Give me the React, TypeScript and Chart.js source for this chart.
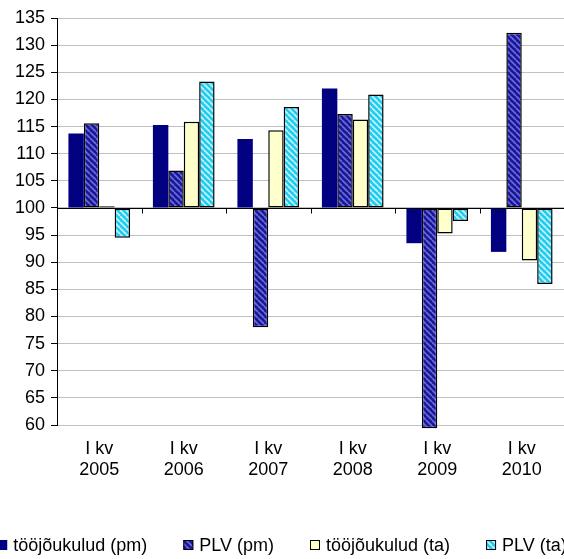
import React, { useEffect, useRef } from "react";
import { Chart, registerables } from "chart.js";

Chart.register(...registerables);

const categories: string[][] = [
  ["I kv", "2005"],
  ["I kv", "2006"],
  ["I kv", "2007"],
  ["I kv", "2008"],
  ["I kv", "2009"],
  ["I kv", "2010"],
];
const seriesNames = ["tööjõukulud (pm)", "PLV (pm)", "tööjõukulud (ta)", "PLV (ta)"];
const toojoukuludPm = [113.7, 115.3, 112.7, 122.0, 93.5, 91.9];
const plvPm = [115.6, 106.9, 78.0, 117.3, 59.4, 132.3];
const toojoukuludTa = [100.3, 115.9, 114.3, 116.3, 95.3, 90.3];
const plvTa = [94.5, 123.3, 118.6, 120.9, 97.6, 86.0];
const yTicks = { min: 60, max: 135, step: 5, base: 100 };

const FONT = "'Liberation Sans', Arial, sans-serif";

function makePattern(bg: string, stripe: string): CanvasPattern | string {
  const s = 6;
  const c = document.createElement("canvas");
  c.width = s;
  c.height = s;
  const ctx = c.getContext("2d");
  if (!ctx) return bg;
  ctx.fillStyle = bg;
  ctx.fillRect(0, 0, s, s);
  ctx.strokeStyle = stripe;
  ctx.lineWidth = 1.6;
  for (const x0 of [-s, 0, s]) {
    ctx.beginPath();
    ctx.moveTo(x0, 0);
    ctx.lineTo(x0 + s, s);
    ctx.stroke();
  }
  const p = ctx.createPattern(c, "repeat");
  return p || bg;
}

export default function App() {
  const ref = useRef<HTMLCanvasElement | null>(null);

  useEffect(() => {
    document.body.style.margin = "0";
    const canvas = ref.current;
    if (!canvas) return;
    const navy = "#000080";
    const plvPmFill = makePattern("#1a1a8c", "#6a6aee");
    const plvTaFill = makePattern("#22ccee", "#c8f4ff");
    const yellow = "#ffffcc";

    const fills = [navy, plvPmFill, yellow, plvTaFill];
    const borders = [0, 1.5, 1.5, 1.5];

    const axisPlugin = {
      id: "baseAxis",
      afterDatasetsDraw(chart: any) {
        const { ctx, chartArea, scales } = chart;
        const y = Math.round(scales.y.getPixelForValue(yTicks.base)) + 0.5;
        ctx.save();
        ctx.strokeStyle = "#000";
        ctx.lineWidth = 1;
        ctx.beginPath();
        ctx.moveTo(chartArea.left, y);
        ctx.lineTo(chartArea.right, y);
        const n = categories.length;
        const w = (chartArea.right - chartArea.left) / n;
        for (let i = 1; i < n; i++) {
          const x = Math.round(chartArea.left + i * w) + 0.5;
          ctx.moveTo(x, y);
          ctx.lineTo(x, y + 5);
        }
        ctx.stroke();
        ctx.restore();
      },
    };

    const legendPlugin = {
      id: "customLegend",
      afterDraw(chart: any) {
        const ctx = chart.ctx;
        ctx.save();
        ctx.font = `18px ${FONT}`;
        ctx.textBaseline = "middle";
        const box = 10;
        const gap = 6;
        const spacing = 36;
        const widths = seriesNames.map((n) => ctx.measureText(n).width);
        const total =
          widths.reduce((a, b) => a + b, 0) + seriesNames.length * (box + gap) + spacing * (seriesNames.length - 1);
        let x = chart.width / 2 - total / 2;
        const y = 545;
        seriesNames.forEach((name, i) => {
          ctx.fillStyle = fills[i] as any;
          ctx.fillRect(x, y - box / 2, box, box);
          if (borders[i] > 0) {
            ctx.strokeStyle = "#000";
            ctx.lineWidth = 1;
            ctx.strokeRect(x + 0.5, y - box / 2 + 0.5, box - 1, box - 1);
          }
          ctx.fillStyle = "#000";
          ctx.fillText(name, x + box + gap, y + 1);
          x += box + gap + widths[i] + spacing;
        });
        ctx.restore();
      },
    };

    const values = [toojoukuludPm, plvPm, toojoukuludTa, plvTa];

    const chart = new Chart(canvas, {
      type: "bar",
      data: {
        labels: categories,
        datasets: values.map((v, i) => ({
          label: seriesNames[i],
          data: v,
          base: yTicks.base,
          backgroundColor: fills[i] as any,
          borderColor: "#000",
          borderWidth: borders[i],
          borderSkipped: false,
          categoryPercentage: 0.73,
          barPercentage: 1.0,
          clip: false as any,
        })),
      },
      options: {
        animation: false,
        responsive: true,
        maintainAspectRatio: false,
        layout: { padding: { top: 18, left: 0, right: 0, bottom: 0 } },
        plugins: {
          legend: { display: false },
          tooltip: { enabled: false },
        },
        scales: {
          x: {
            grid: { display: false },
            border: { display: false },
            ticks: {
              color: "#000",
              font: { family: FONT, size: 18, lineHeight: 1.2 },
              padding: 5,
              maxRotation: 0,
              autoSkip: false,
            },
            afterFit(scale: any) {
              scale.height = 134;
            },
          },
          y: {
            min: yTicks.min,
            max: yTicks.max,
            ticks: {
              stepSize: yTicks.step,
              color: "#000",
              font: { family: FONT, size: 18 },
              padding: 6,
            },
            grid: {
              color: "#c0c0c0",
              tickColor: "#000",
              tickLength: 6,
              lineWidth: 1,
            },
            border: { color: "#000", width: 1 },
            afterFit(scale: any) {
              scale.width = 57;
            },
          },
        },
      },
      plugins: [axisPlugin, legendPlugin],
    });
    return () => chart.destroy();
  }, []);

  return (
    <div style={{ width: 564, height: 559, position: "relative", background: "#fff" }}>
      <canvas ref={ref} />
    </div>
  );
}
